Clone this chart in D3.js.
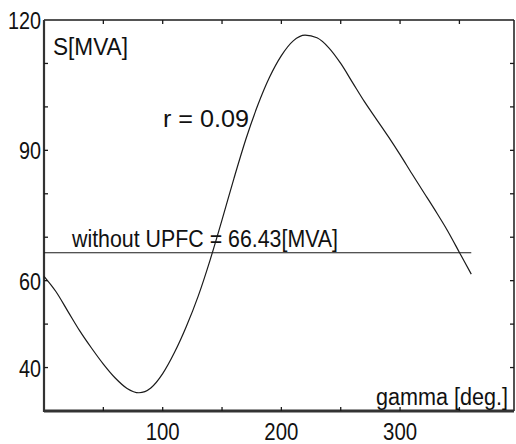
<!DOCTYPE html>
<html lang="en">
  <head>
    <meta charset="utf-8">
    <title>S vs gamma</title>
    <script src="https://cdn.jsdelivr.net/npm/d3@7"></script>
    <style>
      body { margin: 0; background: #fff; }
      text { font-family: "Liberation Sans", Arial, sans-serif; fill: #111; }
    </style>
  </head>
  <body>
    <script>
      // gamma [deg] and apparent power S [MVA]
      const gamma = [0, 10, 20, 30, 40, 50, 60, 70, 80, 90, 100, 110, 120, 130, 140, 150, 160, 170, 180,
                     190, 200, 210, 220, 230, 240, 250, 260, 270, 280, 290, 300, 310, 320, 330, 340, 350, 360]
      const sMVA = [61, 57.5, 53, 48.5, 44.5, 40.8, 37.6, 35.2, 34.2, 35.3, 38.6, 43.5, 49.5, 56.5, 64.8, 74, 83.5, 92.5, 100.3,
                    106.8, 111.8, 115.2, 116.5, 115.9, 113.6, 110, 105.6, 101.2, 97.2, 93.2, 89, 84.6, 80.3, 76, 71.5, 66.5, 61.5]
      const withoutUPFC = 66.43
      const refGamma = [0, 360]

      const xTicks = [50, 100, 150, 200, 250, 300, 350]
      const xTickLabels = [100, 200, 300]
      const yTicks = [40, 50, 60, 70, 80, 90, 100, 110]
      const yTickLabels = [40, 60, 90, 120]

      const w = 516, h = 444
      const m = {top: 20, right: 2, bottom: 33, left: 44}

      const svg = d3.select("body").append("svg")
                    .attr("width", w)
                    .attr("height", h)

      const x = d3.scaleLinear().domain([0, 396]).range([m.left, w - m.right])
      const y = d3.scaleLinear().domain([30, 120]).range([h - m.bottom, m.top])

      const ink = "#1a1a1a"

      // frame
      svg.append("line").attr("x1", x(0)).attr("x2", x(396)).attr("y1", y(120)).attr("y2", y(120))
         .attr("stroke", ink).attr("stroke-width", 1.5)
      svg.append("line").attr("x1", x(396)).attr("x2", x(396)).attr("y1", y(120)).attr("y2", y(30))
         .attr("stroke", ink).attr("stroke-width", 1.5)
      svg.append("line").attr("x1", x(0)).attr("x2", x(0)).attr("y1", y(120)).attr("y2", y(30) + 1)
         .attr("stroke", "#333").attr("stroke-width", 2.2)
      svg.append("line").attr("x1", x(0)).attr("x2", x(396)).attr("y1", y(30)).attr("y2", y(30))
         .attr("stroke", "#333").attr("stroke-width", 3)

      // inward ticks
      const tick = 4
      svg.append("g").selectAll("line").data(xTicks).join("line")
         .attr("x1", d => x(d)).attr("x2", d => x(d))
         .attr("y1", y(30)).attr("y2", y(30) - tick)
         .attr("stroke", ink).attr("stroke-width", 1.3)
      svg.append("g").selectAll("line").data(xTicks).join("line")
         .attr("x1", d => x(d)).attr("x2", d => x(d))
         .attr("y1", y(120)).attr("y2", y(120) + tick)
         .attr("stroke", ink).attr("stroke-width", 1.3)
      svg.append("g").selectAll("line").data(yTicks).join("line")
         .attr("x1", x(0)).attr("x2", x(0) + tick)
         .attr("y1", d => y(d)).attr("y2", d => y(d))
         .attr("stroke", ink).attr("stroke-width", 1.3)
      svg.append("g").selectAll("line").data(yTicks).join("line")
         .attr("x1", x(396)).attr("x2", x(396) - tick)
         .attr("y1", d => y(d)).attr("y2", d => y(d))
         .attr("stroke", ink).attr("stroke-width", 1.3)

      // tick labels (narrow, squeezed to the scan's widths)
      svg.append("g").selectAll("text").data(xTickLabels).join("text")
         .attr("x", d => x(d) - 17).attr("y", h - 4)
         .attr("font-size", "23px")
         .attr("textLength", 34).attr("lengthAdjust", "spacingAndGlyphs")
         .text(d => d)
      svg.append("g").selectAll("text").data(yTickLabels).join("text")
         .attr("x", d => x(0) - 3 - String(d).length * 11).attr("y", d => y(d) + 9)
         .attr("font-size", "23px")
         .attr("textLength", d => String(d).length * 11).attr("lengthAdjust", "spacingAndGlyphs")
         .text(d => d)

      // reference line without UPFC
      svg.append("line")
         .attr("x1", x(refGamma[0])).attr("x2", x(refGamma[1]))
         .attr("y1", y(withoutUPFC)).attr("y2", y(withoutUPFC))
         .attr("stroke", ink).attr("stroke-width", 1.2)

      // S curve
      const line = d3.line()
                     .x((d, i) => x(gamma[i]))
                     .y(d => y(d))
                     .curve(d3.curveMonotoneX)
      svg.append("path")
         .datum(sMVA)
         .attr("d", line)
         .attr("fill", "none")
         .attr("stroke", ink)
         .attr("stroke-width", 1.2)

      // annotations
      const note = (tx, ty, len, str) =>
        svg.append("text").attr("x", tx).attr("y", ty)
           .attr("font-size", "23px")
           .attr("textLength", len).attr("lengthAdjust", "spacingAndGlyphs")
           .text(str)
      note(53, 55, 75, "S[MVA]")
      note(163, 127, 86, "r = 0.09")
      note(72, 247, 266, "without UPFC = 66.43[MVA]")
      note(376, 405, 132, "gamma [deg.]")
    </script>
  </body>
</html>
